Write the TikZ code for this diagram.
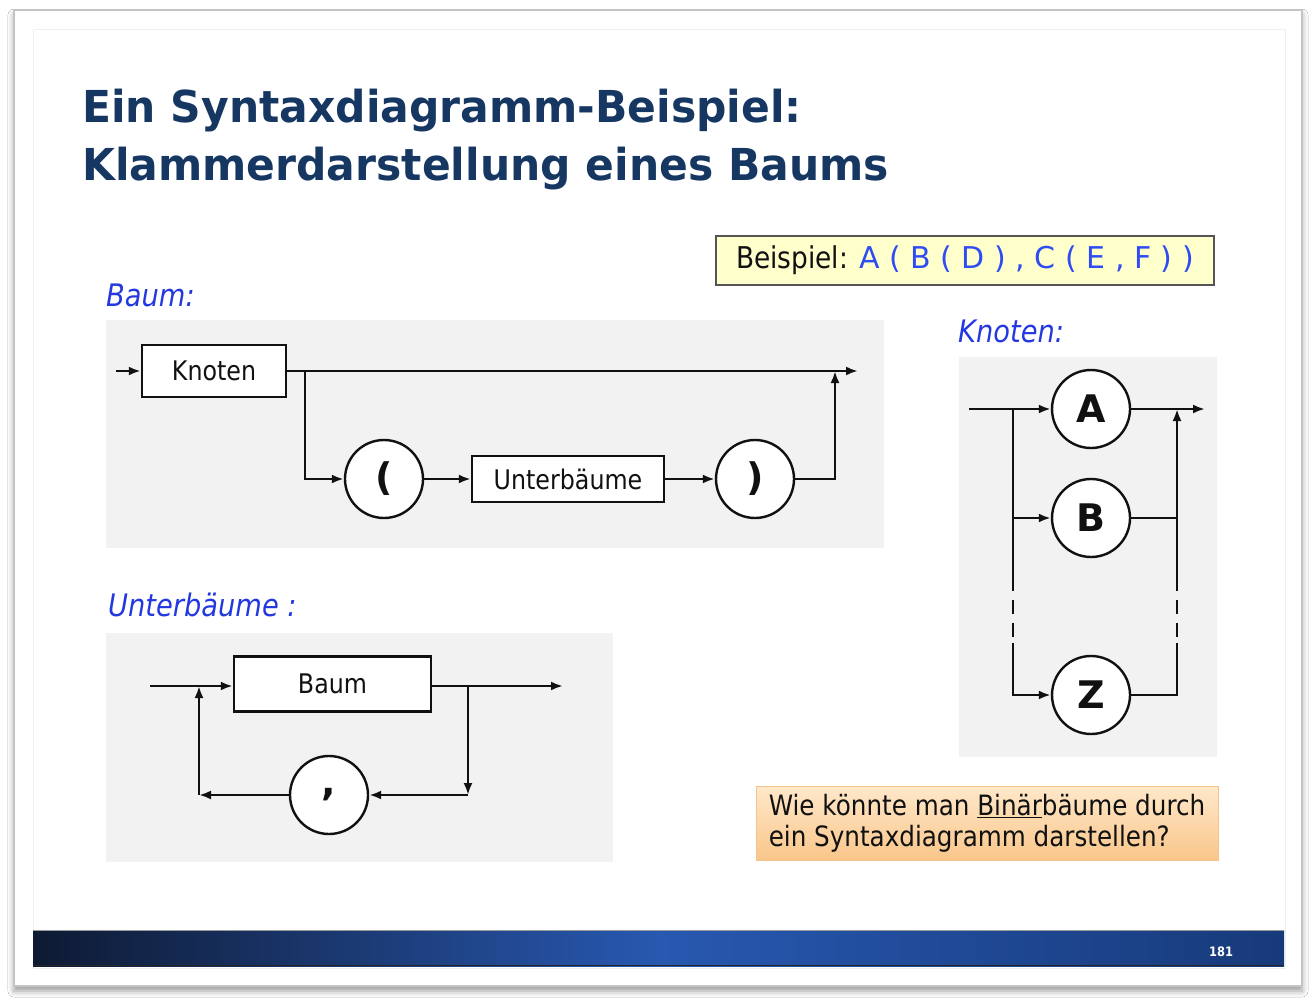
\documentclass[tikz,border=0pt]{standalone}
\usepackage{fontspec}
\setmainfont{DejaVu Sans}
\newfontfamily\slidefont[FakeStretch=0.88]{DejaVu Sans}
\newfontfamily\headfont[FakeStretch=0.965]{DejaVu Sans}
\usetikzlibrary{arrows.meta, positioning, shadows.blur}

\definecolor{ink}{HTML}{111111}
\definecolor{titleblue}{HTML}{173763}
\definecolor{labelblue}{HTML}{2438E0}
\definecolor{exblue}{HTML}{2F4CF2}
\definecolor{panel}{HTML}{F2F2F2}
\definecolor{frame}{HTML}{C4C4C4}
\definecolor{notefill}{HTML}{FFFFCC}
\definecolor{noteline}{HTML}{555555}
\definecolor{asktop}{HTML}{FFE8CA}
\definecolor{askbot}{HTML}{F9C68A}
\definecolor{askline}{HTML}{F3C48C}
\definecolor{bandl}{HTML}{0E1A33}
\definecolor{bandm}{HTML}{2858B0}
\definecolor{bandr}{HTML}{173A7A}

\tikzset{
  font=\slidefont,
  >={Latex[length=12pt, width=9pt]},
  %
  headline/.style={anchor=base west, inner sep=0pt, text=titleblue,
                   font=\headfont\bfseries\fontsize{44}{50}\selectfont},
  rulename/.style={anchor=base west, inner sep=0pt, text=labelblue,
                   font=\slidefont\itshape\fontsize{31}{34}\selectfont},
  %
  term/.style={draw=ink, line width=2.4pt, fill=white, text=ink, inner sep=0pt,
               font=\slidefont\fontsize{27}{30}\selectfont},
  lit/.style={circle, draw=ink, line width=2.4pt, fill=white, text=ink,
              inner sep=0pt, minimum size=78pt,
              font=\bfseries\fontsize{38}{40}\selectfont},
  %
  rail/.style={draw=ink, line width=2.4pt},
  flow/.style={rail, ->},
  railgap/.style={rail, dash pattern=on 14pt off 9pt},
  panelbg/.style={fill=panel, draw=none},
}

\begin{document}
\begin{tikzpicture}[x=1pt, y=-1pt]
  \useasboundingbox (0,0) rectangle (1316,1003);

  % ---- slide ------------------------------------------------------------
  \fill[white] (0,0) rectangle (1316,1003);
  \draw[frame, fill=white, line width=1.2pt,
        blur shadow={shadow xshift=0pt, shadow yshift=-5pt, shadow blur radius=6pt}]
    (14,10) rectangle (1302,986);
  \draw[black!6, line width=0.8pt] (33,29) rectangle (1285,968);
  \shade[left color=bandl, right color=bandr, middle color=bandm]
    (33,930) rectangle (1284,966);
  \draw[black!85, line width=1.5pt] (33,965.5) -- (1284,965.5);
  \draw[black!40, line width=1pt] (33,930.5) -- (1284,930.5);
  \node (pageno) [text=white, font=\slidefont\bfseries\fontsize{13}{14}\selectfont]
    at (1221,952) {181};

  % ---- title ------------------------------------------------------------
  \node (title1) [headline] at (82,123) {Ein Syntaxdiagramm-Beispiel:};
  \node (title2) [headline] at (82,181) {Klammerdarstellung eines Baums};

  % ---- example ----------------------------------------------------------
  \node (example) [draw=noteline, fill=notefill, line width=1.2pt, inner sep=0pt,
                   minimum width=498pt, minimum height=49pt, text=ink,
                   font=\slidefont\fontsize{30}{32}\selectfont]
    at (965,260.5) {Beispiel: \textcolor{exblue}{\normalfont A ( B ( D ) , C ( E , F ) )}};

  % ---- rule: Baum -------------------------------------------------------
  \node (lblbaum) [rulename] at (106,306) {Baum:};
  \fill[panelbg] (106,320) rectangle (884,548);

  \node (knoten) [term, minimum width=144pt, minimum height=52pt] at (214,371) {Knoten};
  \node (popen)  [lit] at (384,479) {(};
  \node (unterb) [term, minimum width=192pt, minimum height=46pt] at (568,479) {Unterbäume};
  \node (pclose) [lit] at (755,479) {)};

  \coordinate (bin)    at (116,371);
  \coordinate (bsplit) at (305,371);
  \coordinate (bjoin)  at (835,371);
  \coordinate (bout)   at (858,371);

  \draw[flow] (bin) -- (knoten);
  \draw[flow] (knoten) -- (bout);
  \draw[flow] (bsplit) |- (popen);
  \draw[flow] (popen) -- (unterb);
  \draw[flow] (unterb) -- (pclose);
  \draw[flow] (pclose) -| (bjoin);

  % ---- rule: Unterbaeume ------------------------------------------------
  \node (lblunterb) [rulename] at (108,616) {Unterbäume :};
  \fill[panelbg] (106,633) rectangle (613,862);

  \node (baum)  [term, minimum width=197pt, minimum height=55pt] at (332.5,684) {Baum};
  \node (komma) [lit] at (329,795) {,};

  \coordinate (uin)   at (150,686);
  \coordinate (uback) at (199,686);
  \coordinate (usep)  at (468,686);
  \coordinate (uout)  at (563,686);
  \coordinate (usepd) at (468,795);
  \coordinate (ubackd) at (199,795);

  \draw[flow] (uin) -- (uin -| baum.west);
  \draw[flow] (baum.east |- uout) -- (uout);
  \draw[flow] (usep) -- (usepd);
  \draw[flow] (usepd) -- (komma);
  \draw[flow] (komma) -- (ubackd);
  \draw[flow] (ubackd) -- (uback);

  % ---- rule: Knoten -----------------------------------------------------
  \node (lblknoten) [rulename] at (958,342) {Knoten:};
  \fill[panelbg] (959,357) rectangle (1217,757);

  \node (ca) [lit] at (1091,409) {A};
  \node (cb) [lit] at (1091,518) {B};
  \node (cz) [lit] at (1091,695) {Z};

  \coordinate (kin)    at (969,409);
  \coordinate (ksplit) at (1013,409);
  \coordinate (kjoin)  at (1177,409);
  \coordinate (kout)   at (1205,409);
  \coordinate (kbl)    at (1013,518);
  \coordinate (kbr)    at (1177,518);
  % gaps in the rails stand for C ... Y
  \coordinate (kgl1) at (1013,577);
  \coordinate (kgl2) at (1013,643);
  \coordinate (kgr1) at (1177,577);
  \coordinate (kgr2) at (1177,643);

  \draw[flow] (kin) -- (ca);
  \draw[flow] (ca) -- (kout);
  \draw[rail] (ksplit) -- (kgl1);
  \draw[railgap] (kgl1) -- (kgl2);
  \draw[flow] (kgl2) |- (cz);
  \draw[flow] (kbl) -- (cb);
  \draw[flow] (cb) -| (kjoin);
  \draw[rail] (kbr) -- (kgr1);
  \draw[railgap] (kgr1) -- (kgr2);
  \draw[rail] (cz) -| (kgr2);

  % ---- question ---------------------------------------------------------
  \node (ask) [draw=askline, top color=asktop, bottom color=askbot, line width=1pt,
               minimum width=462pt, minimum height=74pt, align=left, text=ink,
               font=\slidefont\fontsize{28}{31}\selectfont]
    at (987,823) {Wie könnte man \underline{Binär}bäume durch\\ein Syntaxdiagramm darstellen?};

\end{tikzpicture}
\end{document}
